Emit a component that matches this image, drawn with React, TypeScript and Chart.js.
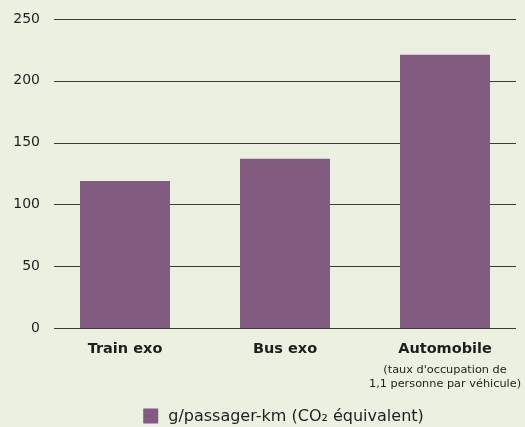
import React, { useEffect, useRef } from "react";
import { Chart, registerables } from "chart.js";

Chart.register(...registerables);

const categories = ["Train exo", "Bus exo", "Automobile"];
const subLabels = ["", "", "(taux d'occupation de\n1,1 personne par véhicule)"];
const values = [119, 137, 221];
const seriesLabel = "g/passager-km (CO₂ équivalent)";
const yTicks = [0, 50, 100, 150, 200, 250];

const BG = "#EAF1E0";
const BAR = "#825C80";
const FONT = "'DejaVu Sans', sans-serif";

export default function App() {
  const ref = useRef<HTMLCanvasElement | null>(null);
  useEffect(() => {
    if (!ref.current) return;
    const gridPlugin = {
      id: "customGrid",
      beforeDatasetsDraw(chart: any) {
        const ctx = chart.ctx;
        const y = chart.scales.y;
        ctx.save();
        ctx.strokeStyle = "#3a3d36";
        ctx.lineWidth = 1.2;
        yTicks.forEach((v) => {
          const py = Math.round(y.getPixelForValue(v)) + 0.5;
          ctx.beginPath();
          ctx.moveTo(54, py);
          ctx.lineTo(516, py);
          ctx.stroke();
        });
        ctx.restore();
      },
      afterDraw(chart: any) {
        const ctx = chart.ctx;
        const x = chart.scales.x;
        const bottom = chart.chartArea.bottom;
        ctx.save();
        ctx.fillStyle = "#1e1e1e";
        ctx.font = "11.3px " + FONT;
        ctx.textAlign = "center";
        ctx.textBaseline = "middle";
        subLabels.forEach((s, i) => {
          if (!s) return;
          const px = x.getPixelForTick(i);
          s.split("\n").forEach((line, j) => {
            ctx.fillText(line, px, bottom + 42 + j * 14);
          });
        });
        // legend
        ctx.font = "16px " + FONT;
        ctx.textAlign = "left";
        const tw = ctx.measureText(seriesLabel).width;
        const total = 15 + 10 + tw;
        const lx = 283.5 - total / 2;
        const ly = 416;
        ctx.fillStyle = BAR;
        ctx.fillRect(lx, ly - 7.5, 15, 15);
        ctx.fillStyle = "#1e1e1e";
        ctx.fillText(seriesLabel, lx + 25, ly + 1);
        ctx.restore();
      },
    };
    const chart = new Chart(ref.current, {
      type: "bar",
      data: {
        labels: categories,
        datasets: [
          {
            label: seriesLabel,
            data: values,
            backgroundColor: BAR,
            borderWidth: 0,
            categoryPercentage: 1,
            barPercentage: 0.5625,
          },
        ],
      },
      options: {
        animation: false,
        responsive: false,
        maintainAspectRatio: false,
        layout: { padding: { top: 19, left: 0, right: 0, bottom: 29 } },
        plugins: {
          legend: { display: false },
          tooltip: { enabled: false },
        },
        scales: {
          x: {
            grid: { display: false, drawTicks: false },
            border: { display: false },
            ticks: {
              color: "#1e1e1e",
              font: { family: FONT, size: 14.5, weight: "bold" },
              padding: 13,
            },
            afterFit(scale: any) {
              scale.height = 70;
            },
          },
          y: {
            min: 0,
            max: 250,
            grid: { display: false, drawTicks: false },
            border: { display: false },
            ticks: {
              stepSize: 50,
              color: "#1e1e1e",
              font: { family: FONT, size: 14 },
              padding: 5,
            },
            afterFit(scale: any) {
              scale.width = 45;
            },
          },
        },
      },
      plugins: [gridPlugin],
    });
    return () => chart.destroy();
  }, []);
  return (
    <div style={{ position: "absolute", left: 0, top: 0, width: 525, height: 427, background: BG }}>
      <canvas ref={ref} width={525} height={427} style={{ display: "block" }} />
    </div>
  );
}
